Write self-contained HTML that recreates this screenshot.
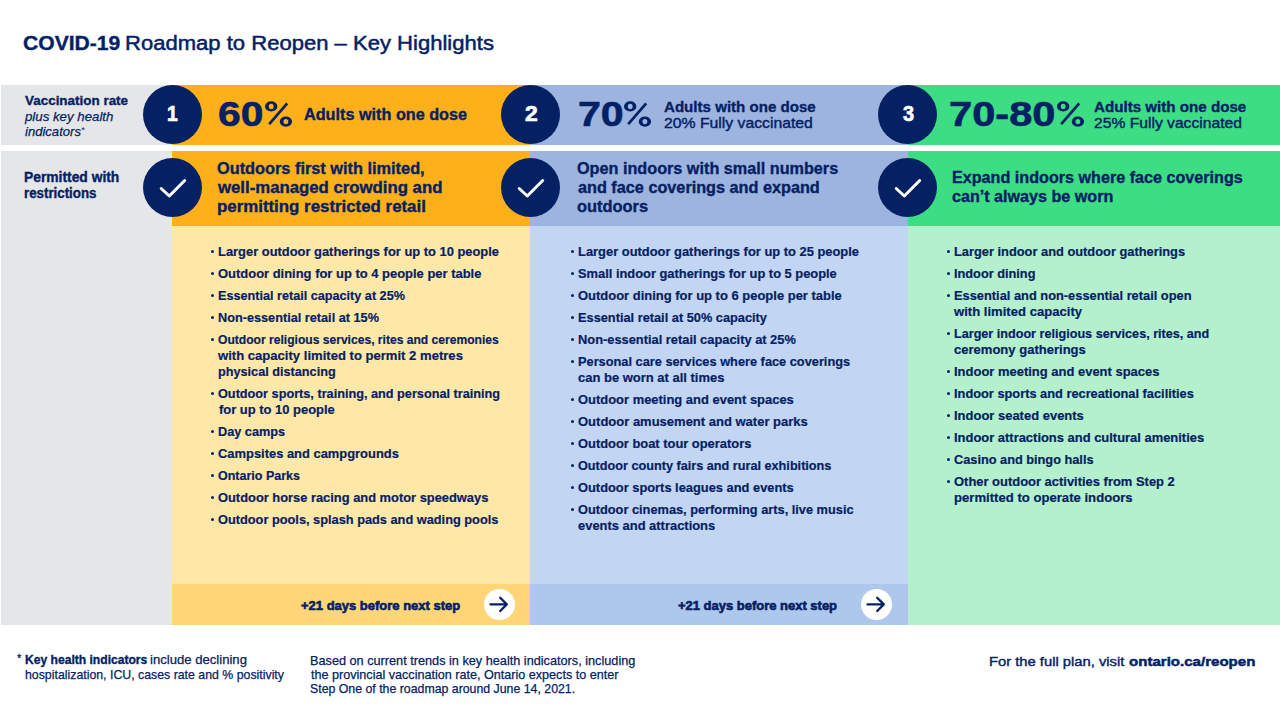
<!DOCTYPE html>
<html><head><meta charset="utf-8"><style>
html,body{margin:0;padding:0;background:#fff;width:1280px;height:720px;overflow:hidden;position:relative}
body{font-family:"Liberation Sans",sans-serif;color:#042164}
.r{position:absolute}
.pc{position:absolute;width:30px;height:30px}
.pc svg{position:absolute;left:0;top:0}
.c{position:absolute;border-radius:50%;background:#042164}
.c svg{position:absolute;left:0;top:0}
.c.w{background:#fff}
.b{position:absolute;width:3px;height:3px;border-radius:50%;background:#042164}
.t{position:absolute;white-space:nowrap;line-height:1;transform-origin:0 0}
.num{position:absolute;width:40px;text-align:center;font-size:21.5px;line-height:1;font-weight:bold;color:#fff}
.ast{position:absolute;font-size:10px;line-height:1;left:17.3px;top:654px;-webkit-text-stroke:0.3px #042164}
.ast2{position:absolute;font-size:9px;line-height:1;font-style:italic;left:81px;top:126px}
</style></head><body>

<div class="r" style="left:1px;top:85px;width:171px;height:59.5px;background:#e5e6e8"></div>
<div class="r" style="left:172px;top:85px;width:358px;height:59.5px;background:#fdb01a"></div>
<div class="r" style="left:530px;top:85px;width:378px;height:59.5px;background:#9db4de"></div>
<div class="r" style="left:908px;top:85px;width:372px;height:59.5px;background:#3ddd84"></div>
<div class="r" style="left:1px;top:151px;width:171px;height:473.5px;background:#e5e6e8"></div>
<div class="r" style="left:172px;top:151px;width:358px;height:74.5px;background:#fdb01a"></div>
<div class="r" style="left:530px;top:151px;width:378px;height:74.5px;background:#9db4de"></div>
<div class="r" style="left:908px;top:151px;width:372px;height:74.5px;background:#3ddd84"></div>
<div class="r" style="left:172px;top:225.5px;width:358px;height:358.5px;background:#fee8a8"></div>
<div class="r" style="left:530px;top:225.5px;width:378px;height:358.5px;background:#c2d5f2"></div>
<div class="r" style="left:908px;top:225.5px;width:372px;height:399px;background:#b3f0cb"></div>
<div class="r" style="left:172px;top:584px;width:358px;height:40.5px;background:#fed577"></div>
<div class="r" style="left:530px;top:584px;width:378px;height:40.5px;background:#aec7ec"></div>
<div class="c" style="left:143.10px;top:85px;width:59px;height:59px"></div>
<div class="c" style="left:143.10px;top:157.8px;width:59px;height:59px"><svg width="60" height="60" viewBox="0 0 60 60"><path d="M18.2 30.5 L26.3 38 L41.7 22.5" fill="none" stroke="#fff" stroke-width="3" stroke-linecap="round" stroke-linejoin="round"/></svg></div>
<div class="c" style="left:501.00px;top:85px;width:59px;height:59px"></div>
<div class="c" style="left:501.00px;top:157.8px;width:59px;height:59px"><svg width="60" height="60" viewBox="0 0 60 60"><path d="M18.2 30.5 L26.3 38 L41.7 22.5" fill="none" stroke="#fff" stroke-width="3" stroke-linecap="round" stroke-linejoin="round"/></svg></div>
<div class="c" style="left:878.30px;top:85px;width:59px;height:59px"></div>
<div class="c" style="left:878.30px;top:157.8px;width:59px;height:59px"><svg width="60" height="60" viewBox="0 0 60 60"><path d="M18.2 30.5 L26.3 38 L41.7 22.5" fill="none" stroke="#fff" stroke-width="3" stroke-linecap="round" stroke-linejoin="round"/></svg></div>
<div class="c w" style="left:483.90px;top:589.2px;width:30.8px;height:30.8px"><svg width="31" height="31" viewBox="0 0 31 31"><path d="M6.5 15.4 H22.8 M16.2 8.8 L22.8 15.4 L16.2 22.0" fill="none" stroke="#042164" stroke-width="2.3" stroke-linecap="round" stroke-linejoin="round"/></svg></div>
<div class="c w" style="left:861.30px;top:589.2px;width:30.8px;height:30.8px"><svg width="31" height="31" viewBox="0 0 31 31"><path d="M6.5 15.4 H22.8 M16.2 8.8 L22.8 15.4 L16.2 22.0" fill="none" stroke="#042164" stroke-width="2.3" stroke-linecap="round" stroke-linejoin="round"/></svg></div>
<div class="pc" style="left:265.10px;top:101px"><svg width="30" height="30" viewBox="0 0 30 30"><path fill-rule="evenodd" fill="#042164" d="M0.00 5.4 a6.2 5.1 0 1 0 12.4 0 a6.2 5.1 0 1 0 -12.4 0 Z M3.75 5.4 a2.45 2.55 0 1 0 4.9 0 a2.45 2.55 0 1 0 -4.9 0 Z M14.70 20.6 a6.2 5.1 0 1 0 12.4 0 a6.2 5.1 0 1 0 -12.4 0 Z M18.45 20.6 a2.45 2.55 0 1 0 4.9 0 a2.45 2.55 0 1 0 -4.9 0 Z"/><path d="M4.2 23.2 L22.2 2.4" stroke="#042164" stroke-width="2.7"/></svg></div>
<div class="pc" style="left:624.00px;top:101px"><svg width="30" height="30" viewBox="0 0 30 30"><path fill-rule="evenodd" fill="#042164" d="M0.00 5.4 a6.2 5.1 0 1 0 12.4 0 a6.2 5.1 0 1 0 -12.4 0 Z M3.75 5.4 a2.45 2.55 0 1 0 4.9 0 a2.45 2.55 0 1 0 -4.9 0 Z M14.70 20.6 a6.2 5.1 0 1 0 12.4 0 a6.2 5.1 0 1 0 -12.4 0 Z M18.45 20.6 a2.45 2.55 0 1 0 4.9 0 a2.45 2.55 0 1 0 -4.9 0 Z"/><path d="M4.2 23.2 L22.2 2.4" stroke="#042164" stroke-width="2.7"/></svg></div>
<div class="pc" style="left:1056.50px;top:101px"><svg width="30" height="30" viewBox="0 0 30 30"><path fill-rule="evenodd" fill="#042164" d="M0.00 5.4 a6.2 5.1 0 1 0 12.4 0 a6.2 5.1 0 1 0 -12.4 0 Z M3.75 5.4 a2.45 2.55 0 1 0 4.9 0 a2.45 2.55 0 1 0 -4.9 0 Z M14.70 20.6 a6.2 5.1 0 1 0 12.4 0 a6.2 5.1 0 1 0 -12.4 0 Z M18.45 20.6 a2.45 2.55 0 1 0 4.9 0 a2.45 2.55 0 1 0 -4.9 0 Z"/><path d="M4.2 23.2 L22.2 2.4" stroke="#042164" stroke-width="2.7"/></svg></div>
<div class="b" style="left:210.80px;top:250.30px"></div>
<div class="b" style="left:210.80px;top:272.30px"></div>
<div class="b" style="left:210.80px;top:294.30px"></div>
<div class="b" style="left:210.80px;top:316.30px"></div>
<div class="b" style="left:210.80px;top:338.30px"></div>
<div class="b" style="left:210.80px;top:392.30px"></div>
<div class="b" style="left:210.80px;top:430.30px"></div>
<div class="b" style="left:210.80px;top:452.30px"></div>
<div class="b" style="left:210.80px;top:474.30px"></div>
<div class="b" style="left:210.80px;top:496.30px"></div>
<div class="b" style="left:210.80px;top:518.30px"></div>
<div class="b" style="left:570.80px;top:250.30px"></div>
<div class="b" style="left:570.80px;top:272.30px"></div>
<div class="b" style="left:570.80px;top:294.30px"></div>
<div class="b" style="left:570.80px;top:316.30px"></div>
<div class="b" style="left:570.80px;top:338.30px"></div>
<div class="b" style="left:570.80px;top:360.30px"></div>
<div class="b" style="left:570.80px;top:398.30px"></div>
<div class="b" style="left:570.80px;top:420.30px"></div>
<div class="b" style="left:570.80px;top:442.30px"></div>
<div class="b" style="left:570.80px;top:464.30px"></div>
<div class="b" style="left:570.80px;top:486.30px"></div>
<div class="b" style="left:570.80px;top:508.30px"></div>
<div class="b" style="left:947.00px;top:250.30px"></div>
<div class="b" style="left:947.00px;top:272.30px"></div>
<div class="b" style="left:947.00px;top:294.30px"></div>
<div class="b" style="left:947.00px;top:332.30px"></div>
<div class="b" style="left:947.00px;top:370.30px"></div>
<div class="b" style="left:947.00px;top:392.30px"></div>
<div class="b" style="left:947.00px;top:414.30px"></div>
<div class="b" style="left:947.00px;top:436.30px"></div>
<div class="b" style="left:947.00px;top:458.30px"></div>
<div class="b" style="left:947.00px;top:480.30px"></div>

<div class="t" style="left:23.000px;top:33px;font-size:20.5px;font-weight:bold;transform:scaleX(1.02892);-webkit-text-stroke:0.35px #042164;">COVID-19</div><div class="t" style="left:125.000px;top:33px;font-size:20.5px;transform:scaleX(1.07552);-webkit-text-stroke:0.5px #042164;">Roadmap to Reopen – Key Highlights</div><div class="t" style="left:25.000px;top:94px;font-size:13.6px;font-weight:bold;transform:scaleX(0.98841);-webkit-text-stroke:0.35px #042164;">Vaccination rate</div><div class="t" style="left:25.000px;top:110px;font-size:13.6px;font-style:italic;transform:scaleX(0.97485);-webkit-text-stroke:0.25px #042164;">plus key health</div><div class="t" style="left:25.000px;top:125px;font-size:13.6px;font-style:italic;transform:scaleX(0.96126);-webkit-text-stroke:0.25px #042164;">indicators</div><div class="t" style="left:218.000px;top:97px;font-size:34.5px;font-weight:bold;transform:scaleX(1.18116);-webkit-text-stroke:0.6px #042164;">60</div><div class="t" style="left:578.000px;top:97px;font-size:34.5px;font-weight:bold;transform:scaleX(1.19111);-webkit-text-stroke:0.6px #042164;">70</div><div class="t" style="left:949.000px;top:97px;font-size:34.5px;font-weight:bold;transform:scaleX(1.20583);-webkit-text-stroke:0.6px #042164;">70-80</div><div class="t" style="left:304.000px;top:106px;font-size:16.3px;font-weight:bold;transform:scaleX(0.99600);-webkit-text-stroke:0.35px #042164;">Adults with one dose</div><div class="t" style="left:664.000px;top:100px;font-size:14.8px;font-weight:bold;transform:scaleX(1.01995);-webkit-text-stroke:0.35px #042164;">Adults with one dose</div><div class="t" style="left:664.000px;top:116px;font-size:14.8px;transform:scaleX(1.06486);-webkit-text-stroke:0.4px #042164;">20% Fully vaccinated</div><div class="t" style="left:1094.000px;top:100px;font-size:14.8px;font-weight:bold;transform:scaleX(1.02323);-webkit-text-stroke:0.35px #042164;">Adults with one dose</div><div class="t" style="left:1094.000px;top:116px;font-size:14.8px;transform:scaleX(1.05800);-webkit-text-stroke:0.4px #042164;">25% Fully vaccinated</div><div class="t" style="left:24.000px;top:170px;font-size:14.0px;font-weight:bold;transform:scaleX(0.98786);-webkit-text-stroke:0.35px #042164;">Permitted with</div><div class="t" style="left:24.000px;top:186px;font-size:14.0px;font-weight:bold;transform:scaleX(0.95043);-webkit-text-stroke:0.35px #042164;">restrictions</div><div class="t" style="left:217.000px;top:161px;font-size:16.0px;font-weight:bold;transform:scaleX(1.02003);-webkit-text-stroke:0.35px #042164;">Outdoors first with limited,</div><div class="t" style="left:218.000px;top:180px;font-size:16.0px;font-weight:bold;transform:scaleX(1.04747);-webkit-text-stroke:0.35px #042164;">well-managed crowding and</div><div class="t" style="left:217.000px;top:199px;font-size:16.0px;font-weight:bold;transform:scaleX(1.05334);-webkit-text-stroke:0.35px #042164;">permitting restricted retail</div><div class="t" style="left:577.000px;top:161px;font-size:16.0px;font-weight:bold;transform:scaleX(1.01311);-webkit-text-stroke:0.35px #042164;">Open indoors with small numbers</div><div class="t" style="left:578.000px;top:180px;font-size:16.0px;font-weight:bold;transform:scaleX(1.01465);-webkit-text-stroke:0.35px #042164;">and face coverings and expand</div><div class="t" style="left:577.000px;top:199px;font-size:16.0px;font-weight:bold;transform:scaleX(1.02465);-webkit-text-stroke:0.35px #042164;">outdoors</div><div class="t" style="left:952.000px;top:170px;font-size:16.0px;font-weight:bold;transform:scaleX(1.00920);-webkit-text-stroke:0.35px #042164;">Expand indoors where face coverings</div><div class="t" style="left:952.000px;top:189px;font-size:16.0px;font-weight:bold;transform:scaleX(1.00754);-webkit-text-stroke:0.35px #042164;">can’t always be worn</div><div class="t" style="left:218.000px;top:245px;font-size:13.7px;font-weight:bold;transform:scaleX(0.94270);-webkit-text-stroke:0.2px #042164;">Larger outdoor gatherings for up to 10 people</div><div class="t" style="left:218.000px;top:267px;font-size:13.7px;font-weight:bold;transform:scaleX(0.94638);-webkit-text-stroke:0.2px #042164;">Outdoor dining for up to 4 people per table</div><div class="t" style="left:218.000px;top:289px;font-size:13.7px;font-weight:bold;transform:scaleX(0.92356);-webkit-text-stroke:0.2px #042164;">Essential retail capacity at 25%</div><div class="t" style="left:218.000px;top:311px;font-size:13.7px;font-weight:bold;transform:scaleX(0.92801);-webkit-text-stroke:0.2px #042164;">Non-essential retail at 15%</div><div class="t" style="left:218.000px;top:333px;font-size:13.7px;font-weight:bold;transform:scaleX(0.88299);-webkit-text-stroke:0.2px #042164;">Outdoor religious services, rites and ceremonies</div><div class="t" style="left:218.000px;top:349px;font-size:13.7px;font-weight:bold;transform:scaleX(0.95539);-webkit-text-stroke:0.2px #042164;">with capacity limited to permit 2 metres</div><div class="t" style="left:218.000px;top:365px;font-size:13.7px;font-weight:bold;transform:scaleX(0.92610);-webkit-text-stroke:0.2px #042164;">physical distancing</div><div class="t" style="left:218.000px;top:387px;font-size:13.7px;font-weight:bold;transform:scaleX(0.92727);-webkit-text-stroke:0.2px #042164;">Outdoor sports, training, and personal training</div><div class="t" style="left:219.000px;top:403px;font-size:13.7px;font-weight:bold;transform:scaleX(0.94603);-webkit-text-stroke:0.2px #042164;">for up to 10 people</div><div class="t" style="left:218.000px;top:425px;font-size:13.7px;font-weight:bold;transform:scaleX(0.92837);-webkit-text-stroke:0.2px #042164;">Day camps</div><div class="t" style="left:218.000px;top:447px;font-size:13.7px;font-weight:bold;transform:scaleX(0.94361);-webkit-text-stroke:0.2px #042164;">Campsites and campgrounds</div><div class="t" style="left:218.000px;top:469px;font-size:13.7px;font-weight:bold;transform:scaleX(0.91379);-webkit-text-stroke:0.2px #042164;">Ontario Parks</div><div class="t" style="left:218.000px;top:491px;font-size:13.7px;font-weight:bold;transform:scaleX(0.94023);-webkit-text-stroke:0.2px #042164;">Outdoor horse racing and motor speedways</div><div class="t" style="left:218.000px;top:513px;font-size:13.7px;font-weight:bold;transform:scaleX(0.93345);-webkit-text-stroke:0.2px #042164;">Outdoor pools, splash pads and wading pools</div><div class="t" style="left:578.000px;top:245px;font-size:13.7px;font-weight:bold;transform:scaleX(0.94270);-webkit-text-stroke:0.2px #042164;">Larger outdoor gatherings for up to 25 people</div><div class="t" style="left:578.000px;top:267px;font-size:13.7px;font-weight:bold;transform:scaleX(0.93997);-webkit-text-stroke:0.2px #042164;">Small indoor gatherings for up to 5 people</div><div class="t" style="left:578.000px;top:289px;font-size:13.7px;font-weight:bold;transform:scaleX(0.94780);-webkit-text-stroke:0.2px #042164;">Outdoor dining for up to 6 people per table</div><div class="t" style="left:578.000px;top:311px;font-size:13.7px;font-weight:bold;transform:scaleX(0.93379);-webkit-text-stroke:0.2px #042164;">Essential retail at 50% capacity</div><div class="t" style="left:578.000px;top:333px;font-size:13.7px;font-weight:bold;transform:scaleX(0.93888);-webkit-text-stroke:0.2px #042164;">Non-essential retail capacity at 25%</div><div class="t" style="left:578.000px;top:355px;font-size:13.7px;font-weight:bold;transform:scaleX(0.93387);-webkit-text-stroke:0.2px #042164;">Personal care services where face coverings</div><div class="t" style="left:578.000px;top:371px;font-size:13.7px;font-weight:bold;transform:scaleX(0.94855);-webkit-text-stroke:0.2px #042164;">can be worn at all times</div><div class="t" style="left:578.000px;top:393px;font-size:13.7px;font-weight:bold;transform:scaleX(0.94579);-webkit-text-stroke:0.2px #042164;">Outdoor meeting and event spaces</div><div class="t" style="left:578.000px;top:415px;font-size:13.7px;font-weight:bold;transform:scaleX(0.94988);-webkit-text-stroke:0.2px #042164;">Outdoor amusement and water parks</div><div class="t" style="left:578.000px;top:437px;font-size:13.7px;font-weight:bold;transform:scaleX(0.94190);-webkit-text-stroke:0.2px #042164;">Outdoor boat tour operators</div><div class="t" style="left:578.000px;top:459px;font-size:13.7px;font-weight:bold;transform:scaleX(0.92555);-webkit-text-stroke:0.2px #042164;">Outdoor county fairs and rural exhibitions</div><div class="t" style="left:578.000px;top:481px;font-size:13.7px;font-weight:bold;transform:scaleX(0.93918);-webkit-text-stroke:0.2px #042164;">Outdoor sports leagues and events</div><div class="t" style="left:578.000px;top:503px;font-size:13.7px;font-weight:bold;transform:scaleX(0.93365);-webkit-text-stroke:0.2px #042164;">Outdoor cinemas, performing arts, live music</div><div class="t" style="left:578.000px;top:519px;font-size:13.7px;font-weight:bold;transform:scaleX(0.94440);-webkit-text-stroke:0.2px #042164;">events and attractions</div><div class="t" style="left:954.000px;top:245px;font-size:13.7px;font-weight:bold;transform:scaleX(0.93787);-webkit-text-stroke:0.2px #042164;">Larger indoor and outdoor gatherings</div><div class="t" style="left:954.000px;top:267px;font-size:13.7px;font-weight:bold;transform:scaleX(0.93123);-webkit-text-stroke:0.2px #042164;">Indoor dining</div><div class="t" style="left:954.000px;top:289px;font-size:13.7px;font-weight:bold;transform:scaleX(0.93781);-webkit-text-stroke:0.2px #042164;">Essential and non-essential retail open</div><div class="t" style="left:954.000px;top:305px;font-size:13.7px;font-weight:bold;transform:scaleX(0.95640);-webkit-text-stroke:0.2px #042164;">with limited capacity</div><div class="t" style="left:954.000px;top:327px;font-size:13.7px;font-weight:bold;transform:scaleX(0.92192);-webkit-text-stroke:0.2px #042164;">Larger indoor religious services, rites, and</div><div class="t" style="left:954.000px;top:343px;font-size:13.7px;font-weight:bold;transform:scaleX(0.95206);-webkit-text-stroke:0.2px #042164;">ceremony gatherings</div><div class="t" style="left:954.000px;top:365px;font-size:13.7px;font-weight:bold;transform:scaleX(0.94782);-webkit-text-stroke:0.2px #042164;">Indoor meeting and event spaces</div><div class="t" style="left:954.000px;top:387px;font-size:13.7px;font-weight:bold;transform:scaleX(0.93557);-webkit-text-stroke:0.2px #042164;">Indoor sports and recreational facilities</div><div class="t" style="left:954.000px;top:409px;font-size:13.7px;font-weight:bold;transform:scaleX(0.94809);-webkit-text-stroke:0.2px #042164;">Indoor seated events</div><div class="t" style="left:954.000px;top:431px;font-size:13.7px;font-weight:bold;transform:scaleX(0.94517);-webkit-text-stroke:0.2px #042164;">Indoor attractions and cultural amenities</div><div class="t" style="left:954.000px;top:453px;font-size:13.7px;font-weight:bold;transform:scaleX(0.93128);-webkit-text-stroke:0.2px #042164;">Casino and bingo halls</div><div class="t" style="left:954.000px;top:475px;font-size:13.7px;font-weight:bold;transform:scaleX(0.94577);-webkit-text-stroke:0.2px #042164;">Other outdoor activities from Step 2</div><div class="t" style="left:954.000px;top:491px;font-size:13.7px;font-weight:bold;transform:scaleX(0.95840);-webkit-text-stroke:0.2px #042164;">permitted to operate indoors</div><div class="t" style="left:167.000px;top:103px;font-size:22.0px;font-weight:bold;transform:scaleX(0.87769);color:#fff;-webkit-text-stroke:0.7px #fff;">1</div><div class="t" style="left:525.000px;top:103px;font-size:22.0px;font-weight:bold;transform:scaleX(1.03942);color:#fff;-webkit-text-stroke:0.7px #fff;">2</div><div class="t" style="left:903.000px;top:103px;font-size:22.0px;font-weight:bold;transform:scaleX(0.90632);color:#fff;-webkit-text-stroke:0.7px #fff;">3</div><div class="t" style="left:301.000px;top:600px;font-size:12.9px;font-weight:bold;transform:scaleX(1.00746);-webkit-text-stroke:0.6px #042164;">+21 days before next step</div><div class="t" style="left:678.000px;top:600px;font-size:12.9px;font-weight:bold;transform:scaleX(1.00673);-webkit-text-stroke:0.6px #042164;">+21 days before next step</div><div class="t" style="left:25.000px;top:654px;font-size:12.9px;font-weight:bold;transform:scaleX(0.93799);-webkit-text-stroke:0.35px #042164;">Key health indicators</div><div class="t" style="left:150.000px;top:654px;font-size:12.9px;transform:scaleX(1.01704);-webkit-text-stroke:0.25px #042164;">include declining</div><div class="t" style="left:25.000px;top:669px;font-size:12.9px;transform:scaleX(0.95616);-webkit-text-stroke:0.25px #042164;">hospitalization, ICU, cases rate and % positivity</div><div class="t" style="left:310.000px;top:655px;font-size:12.9px;transform:scaleX(0.98487);-webkit-text-stroke:0.25px #042164;">Based on current trends in key health indicators, including</div><div class="t" style="left:311.000px;top:669px;font-size:12.9px;transform:scaleX(0.97734);-webkit-text-stroke:0.25px #042164;">the provincial vaccination rate, Ontario expects to enter</div><div class="t" style="left:310.000px;top:683px;font-size:12.9px;transform:scaleX(0.95587);-webkit-text-stroke:0.25px #042164;">Step One of the roadmap around June 14, 2021.</div><div class="t" style="left:989.000px;top:655px;font-size:13.6px;transform:scaleX(1.08569);-webkit-text-stroke:0.4px #042164;">For the full plan, visit</div><div class="t" style="left:1129.000px;top:655px;font-size:13.6px;font-weight:bold;transform:scaleX(1.10800);-webkit-text-stroke:0.5px #042164;">ontario.ca/reopen</div>
<div class="ast">*</div>
<div class="ast2">*</div>
</body></html>
